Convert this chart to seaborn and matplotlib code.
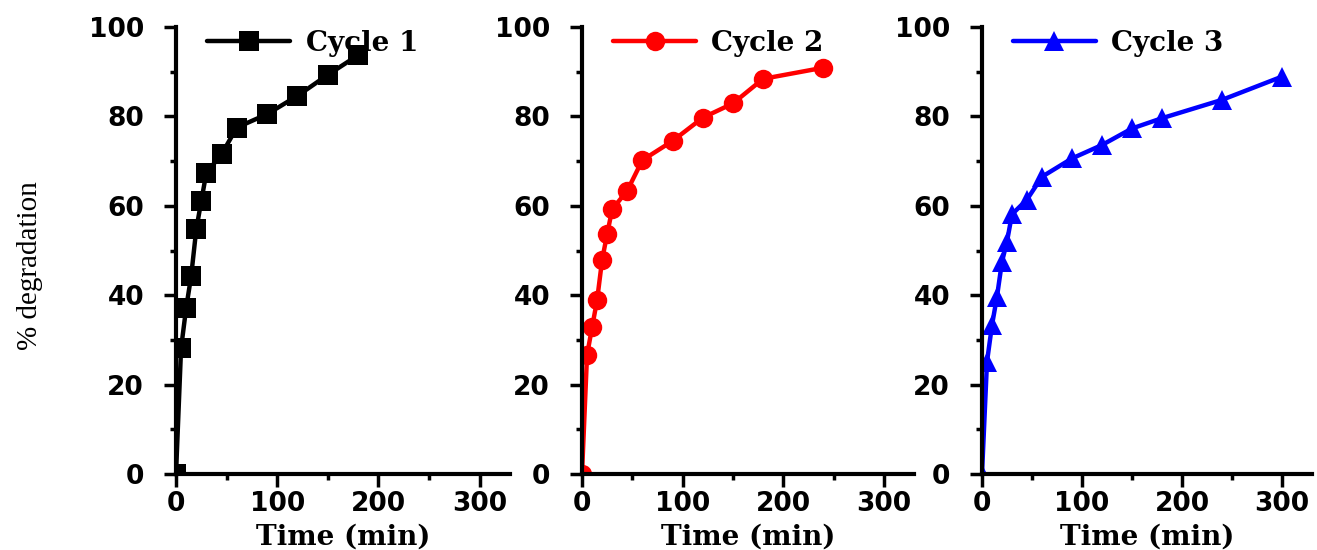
import matplotlib
matplotlib.use("Agg")
import matplotlib.pyplot as plt
import seaborn as sns
import pandas as pd
from matplotlib.ticker import MultipleLocator

sns.set_theme(style="ticks")
plt.rcParams['font.family'] = ['DejaVu Sans']
plt.rcParams['text.color'] = 'black'

# ---- data ----
time_c1 = [0, 5, 10, 15, 20, 25, 30, 45, 60, 90, 120, 150, 180]
deg_c1 = [0, 28.1, 37.1, 44.3, 54.7, 61.1, 67.4, 71.5, 77.5, 80.5, 84.6, 89.3, 93.7]
time_c2 = [0, 5, 10, 15, 20, 25, 30, 45, 60, 90, 120, 150, 180, 240]
deg_c2 = [0, 26.6, 32.8, 38.9, 47.9, 53.7, 59.2, 63.4, 70.2, 74.5, 79.7, 82.9, 88.4, 90.9]
time_c3 = [0, 5, 10, 15, 20, 25, 30, 45, 60, 90, 120, 150, 180, 240, 300]
deg_c3 = [0, 25.1, 33.3, 39.7, 47.5, 52.0, 58.1, 61.4, 66.5, 70.6, 73.6, 77.3, 79.6, 83.7, 88.9]
labels = ["Cycle 1", "Cycle 2", "Cycle 3"]
colors = ["#000000", "#FF0000", "#0000FF"]
markers = ["s", "o", "^"]
xticks = [0, 100, 200, 300]
yticks = [0, 20, 40, 60, 80, 100]

series = [(time_c1, deg_c1), (time_c2, deg_c2), (time_c3, deg_c3)]

W, H = 1317, 550
fig = plt.figure(figsize=(W / 100, H / 100), dpi=100)
lefts = [176, 582, 982]
rights = [510, 914, 1312]
top_px, bot_px = 27, 474

for i, ((t, d), lab, col, mk) in enumerate(zip(series, labels, colors, markers)):
    l, r = lefts[i], rights[i]
    ax = fig.add_axes([l / W, 1 - bot_px / H, (r - l) / W, (bot_px - top_px) / H])
    df = pd.DataFrame({"Time": t, "Deg": d})
    sns.lineplot(data=df, x="Time", y="Deg", ax=ax, color=col, lw=3.2,
                 marker=mk, markersize=14, markeredgewidth=0, label=lab)
    ax.set_xlim(0, 330)
    ax.set_ylim(0, 100)
    ax.set_xticks(xticks)
    ax.set_yticks(yticks)
    ax.xaxis.set_minor_locator(MultipleLocator(50))
    ax.yaxis.set_minor_locator(MultipleLocator(10))
    for s in ["top", "right"]:
        ax.spines[s].set_visible(False)
    for s in ["left", "bottom"]:
        ax.spines[s].set_linewidth(3)
        ax.spines[s].set_color("black")
    ax.tick_params(which="major", length=9, width=2.5, direction="out",
                   color="black", labelcolor="black")
    ax.tick_params(which="minor", length=4, width=2.5, direction="out", color="black")
    ax.tick_params(axis="y", which="major", pad=14)
    ax.tick_params(axis="x", which="major", pad=3)
    for lbl in ax.get_xticklabels() + ax.get_yticklabels():
        lbl.set_family(['DejaVu Sans'])
        lbl.set_fontweight('bold')
        lbl.set_fontsize(19)
    ax.set_xlabel("Time (min)", family=['DejaVu Serif'], color="black",
                  fontweight='bold', fontsize=20)
    ax.xaxis.set_label_coords(0.5, (bot_px - 537) / (bot_px - top_px))
    ax.xaxis.label.set_va("center")
    ax.set_ylabel("")
    ax.legend(loc="center left", bbox_to_anchor=(0.093, 0.964), frameon=False,
              borderpad=0, borderaxespad=0,
              handlelength=3.0, handletextpad=0.55,
              prop=dict(family=['DejaVu Serif'], weight='bold', size=20))
    ax.set_facecolor("white")

fig.text(30 / W, 0.518, "% degradation", rotation=90, ha="center", va="center",
         family=['Liberation Serif', 'DejaVu Serif'], fontsize=21, color="black")

fig.savefig("out.png", dpi=100, facecolor="white")
